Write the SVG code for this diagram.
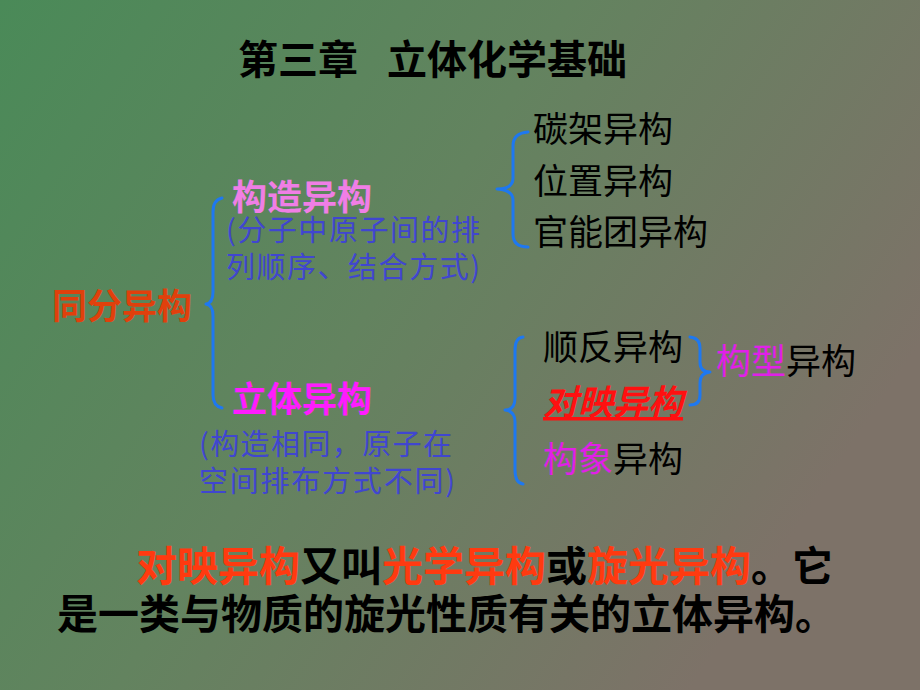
<svg xmlns="http://www.w3.org/2000/svg" width="920" height="690" viewBox="0 0 920 690">
<defs>
<linearGradient id="bg" x1="0" y1="0" x2="1" y2="0.5">
<stop offset="0" stop-color="#4a8a58"/>
<stop offset="0.5" stop-color="#63835f"/>
<stop offset="1" stop-color="#7d7268"/>
</linearGradient>
<style>
text{font-family:"Noto Sans CJK SC","Noto Sans",sans-serif;}
.b{font-weight:bold;}
.blk{fill:#000;}
.note{fill:#4046d0;font-size:29px;}
.item{font-size:35px;fill:#000;}
.brace{fill:none;stroke:#1e78f0;stroke-width:3;stroke-linecap:round;stroke-linejoin:round;}
.red{fill:#ff3a10;}
.mag{fill:#e020e8;}
</style>
</defs>
<rect width="920" height="690" fill="url(#bg)"/>

<g id="title">
<text x="238" y="74" font-size="40" class="b blk">第三章</text>
<text x="387" y="74" font-size="40" class="b blk">立体化学基础</text>
</g>

<g id="connectors">
<path class="brace" d="M222,198 Q213,200 213,212 L213,292 Q213,303 206,304 Q213,305 213,316 L213,395 Q213,406 222,408"/>
<path class="brace" d="M528,132 Q513,133 513,146 L513,178 Q513,189 497,189 Q513,190 513,200 L513,234 Q513,247 528,247"/>
<path class="brace" d="M523,337 Q515,338 515,350 L515,398 Q515,410 505,410 Q515,411 515,422 L515,470 Q515,483 523,484"/>
<path class="brace" d="M690,337 Q700,338 700,348 L700,362 Q700,372 710,372 Q700,373 700,383 L700,395 Q700,405 690,405"/>
</g>

<g id="root">
<text x="52" y="319" font-size="35" class="b" fill="#e0400c">同分异构</text>
</g>

<g id="constitutional">
<text x="232" y="210" font-size="35" class="b" fill="#f07ee6">构造异构</text>
<text x="226" y="241" class="note" textLength="254" lengthAdjust="spacing">(分子中原子间的排</text>
<text x="226" y="278" class="note" textLength="254" lengthAdjust="spacing">列顺序、结合方式)</text>
</g>

<g id="stereo">
<text x="232" y="412" font-size="35" class="b" fill="#ff1cff">立体异构</text>
<text x="199" y="455" class="note" textLength="253" lengthAdjust="spacing">(构造相同，原子在</text>
<text x="199" y="492" class="note" textLength="256" lengthAdjust="spacing">空间排布方式不同)</text>
</g>

<g id="carbon"><text x="533" y="142" class="item">碳架异构</text></g>
<g id="position"><text x="533" y="194" class="item">位置异构</text></g>
<g id="functional"><text x="533" y="245" class="item">官能团异构</text></g>

<g id="cistrans"><text x="543" y="360" class="item">顺反异构</text></g>
<g id="enantiomer"><text x="543" y="415" class="item b" fill="#ff1010" style="fill:#ff1010;font-style:italic;text-decoration:underline;">对映异构</text></g>
<g id="conformation"><text x="543" y="472" class="item"><tspan class="mag">构象</tspan>异构</text></g>
<g id="configuration"><text x="716" y="374" class="item"><tspan class="mag">构型</tspan>异构</text></g>

<g id="paragraph">
<text x="136" y="581" font-size="41" class="b blk"><tspan class="red">对映异构</tspan>又叫<tspan class="red">光学异构</tspan>或<tspan class="red">旋光异构</tspan>。它</text>
<text x="57" y="629" font-size="41" class="b blk">是一类与物质的旋光性质有关的立体异构。</text>
</g>
</svg>
